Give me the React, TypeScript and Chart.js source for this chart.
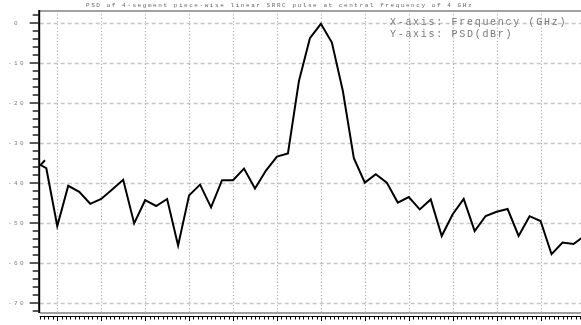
import { useEffect, useRef } from "react";
import { Chart, registerables } from "chart.js";

Chart.register(...registerables);

const TITLE = "PSD of 4-segment piece-wise linear SRRC pulse at central frequency of 4 GHz";
const AXIS_NOTES = ["X-axis: Frequency (GHz)", "Y-axis: PSD(dBr)"];

// Spectrum samples (GHz, dBr)
const freqGHz = [
  0.86, 0.81, 0.875, 1.0, 1.125, 1.25, 1.375, 1.5, 1.625, 1.75, 1.875, 2.0,
  2.125, 2.25, 2.375, 2.5, 2.625, 2.75, 2.875, 3.0, 3.125, 3.25, 3.375, 3.5,
  3.625, 3.75, 3.875, 4.0, 4.125, 4.25, 4.375, 4.5, 4.625, 4.75, 4.875, 5.0,
  5.125, 5.25, 5.375, 5.5, 5.625, 5.75, 5.875, 6.0, 6.125, 6.25, 6.375, 6.5,
  6.625, 6.75, 6.875, 7.0,
];
const psdDbr = [
  -34.3, -35.5, -36.3, -50.75, -40.7, -42.2, -45.2, -44.0, -41.6, -39.2, -50.1, -44.3,
  -45.75, -44.0, -55.6, -43.1, -40.4, -46.1, -39.3, -39.3, -36.4, -41.4, -36.9, -33.4,
  -32.6, -14.5, -3.8, -0.2, -4.9, -17.0, -33.8, -39.9, -37.8, -39.9, -44.9, -43.5,
  -46.6, -44.1, -53.25, -47.8, -44.0, -52.0, -48.25, -47.2, -46.5, -53.25, -48.3, -49.5,
  -57.8, -54.9, -55.25, -53.2,
];

// Axis ranges and tick values
const X_MIN = 0.8;
const X_MAX = 6.96;
const Y_MIN = -72.5;
const Y_MAX = 3;
const xMajorTicks = [1.0, 1.5, 2.0, 2.5, 3.0, 3.5, 4.0, 4.5, 5.0, 5.5, 6.0, 6.5];
const yMajorTicks = [0, -10, -20, -30, -40, -50, -60, -70];
const yTickLabels = ["0", "-10", "-20", "-30", "-40", "-50", "-60", "-70"];
const X_MINOR_STEP = 0.05;
const Y_MINOR_STEP = 2;

const MONO = '"Liberation Mono", "DejaVu Sans Mono", monospace';

const framePlugin = {
  id: "psdFrame",
  beforeDatasetsDraw(chart: any) {
    const { ctx, chartArea: a, scales } = chart;
    const x = scales.x;
    const y = scales.y;
    const seg = (x1: number, y1: number, x2: number, y2: number) => {
      ctx.beginPath();
      ctx.moveTo(x1, y1);
      ctx.lineTo(x2, y2);
      ctx.stroke();
    };
    ctx.save();

    // dashed horizontal grid
    ctx.strokeStyle = "#c6c6c6";
    ctx.lineWidth = 1.3;
    ctx.setLineDash([4, 3]);
    yMajorTicks.forEach((v) => {
      const py = Math.round(y.getPixelForValue(v)) + 0.5;
      seg(a.left, py, a.right, py);
    });

    // dotted vertical grid
    ctx.strokeStyle = "#b4b4b4";
    ctx.lineWidth = 1.2;
    ctx.setLineDash([1.3, 2]);
    xMajorTicks.forEach((v) => {
      const px = Math.round(x.getPixelForValue(v)) + 0.5;
      seg(px, a.top, px, a.bottom);
    });
    ctx.setLineDash([]);

    // grey frame top and bottom
    ctx.strokeStyle = "#a0a0a0";
    ctx.lineWidth = 2;
    seg(a.left, a.top, a.right, a.top);
    seg(a.left, a.bottom, a.right, a.bottom);

    // y axis with outward ticks
    ctx.strokeStyle = "#000";
    ctx.lineWidth = 2;
    seg(a.left - 0.5, a.top - 1, a.left - 0.5, a.bottom);
    ctx.strokeStyle = "#222";
    ctx.lineWidth = 1.5;
    for (let v = 2; v >= Y_MIN; v -= Y_MINOR_STEP) {
      const py = y.getPixelForValue(v);
      const major = v % 10 === 0;
      seg(a.left - (major ? 10 : 7), py, a.left - 1, py);
    }

    // x axis below the frame with downward ticks
    const axisY = a.bottom + 3.5;
    ctx.strokeStyle = "#000";
    ctx.lineWidth = 1;
    seg(a.left, axisY, a.right, axisY);
    const steps = Math.round((X_MAX - X_MIN) / X_MINOR_STEP);
    for (let i = 0; i <= steps; i++) {
      const v = X_MIN + i * X_MINOR_STEP;
      const px = Math.round(x.getPixelForValue(v)) + 0.5;
      const major = Math.abs(v * 2 - Math.round(v * 2)) < 1e-6;
      seg(px, axisY, px, axisY + (major ? 4.5 : 3));
    }
    ctx.restore();
  },
  afterDraw(chart: any) {
    const { ctx, scales } = chart;
    const y = scales.y;
    ctx.save();
    ctx.textBaseline = "alphabetic";

    // title
    ctx.fillStyle = "#666";
    ctx.font = `6px ${MONO}`;
    (ctx as any).letterSpacing = "1.56px";
    ctx.textAlign = "left";
    ctx.fillText(TITLE, 86, 7);

    // axis notes
    ctx.fillStyle = "#777";
    ctx.font = `10px ${MONO}`;
    (ctx as any).letterSpacing = "1.7px";
    ctx.fillText(AXIS_NOTES[0], 390, 25);
    ctx.fillText(AXIS_NOTES[1], 390, 36.5);

    // y tick labels
    ctx.fillStyle = "#808080";
    ctx.font = `6px ${MONO}`;
    (ctx as any).letterSpacing = "2.4px";
    ctx.textAlign = "center";
    ctx.textBaseline = "middle";
    yMajorTicks.forEach((v, i) => {
      ctx.fillText(yTickLabels[i], 17, y.getPixelForValue(v));
    });
    (ctx as any).letterSpacing = "0px";
    ctx.restore();
  },
};

export default function App() {
  const canvasRef = useRef<HTMLCanvasElement | null>(null);

  useEffect(() => {
    document.body.style.margin = "0";
    const canvas = canvasRef.current;
    if (!canvas) return;
    const chart = new Chart(canvas, {
      type: "line",
      data: {
        datasets: [
          {
            data: freqGHz.map((f, i) => ({ x: f, y: psdDbr[i] })),
            borderColor: "#000",
            borderWidth: 2,
            pointRadius: 0,
            tension: 0,
            fill: false,
          },
        ],
      },
      options: {
        animation: false,
        responsive: false,
        devicePixelRatio: 1,
        layout: { padding: { left: 39.7, top: 11, right: 0, bottom: 12 } },
        plugins: {
          legend: { display: false },
          title: { display: false },
          tooltip: { enabled: false },
        },
        scales: {
          x: { type: "linear", min: X_MIN, max: X_MAX, display: false },
          y: { type: "linear", min: Y_MIN, max: Y_MAX, display: false },
        },
      },
      plugins: [framePlugin],
    });
    return () => chart.destroy();
  }, []);

  return (
    <div style={{ width: 581, height: 325, background: "#fff" }}>
      <canvas ref={canvasRef} width={581} height={325} style={{ display: "block" }} />
    </div>
  );
}
